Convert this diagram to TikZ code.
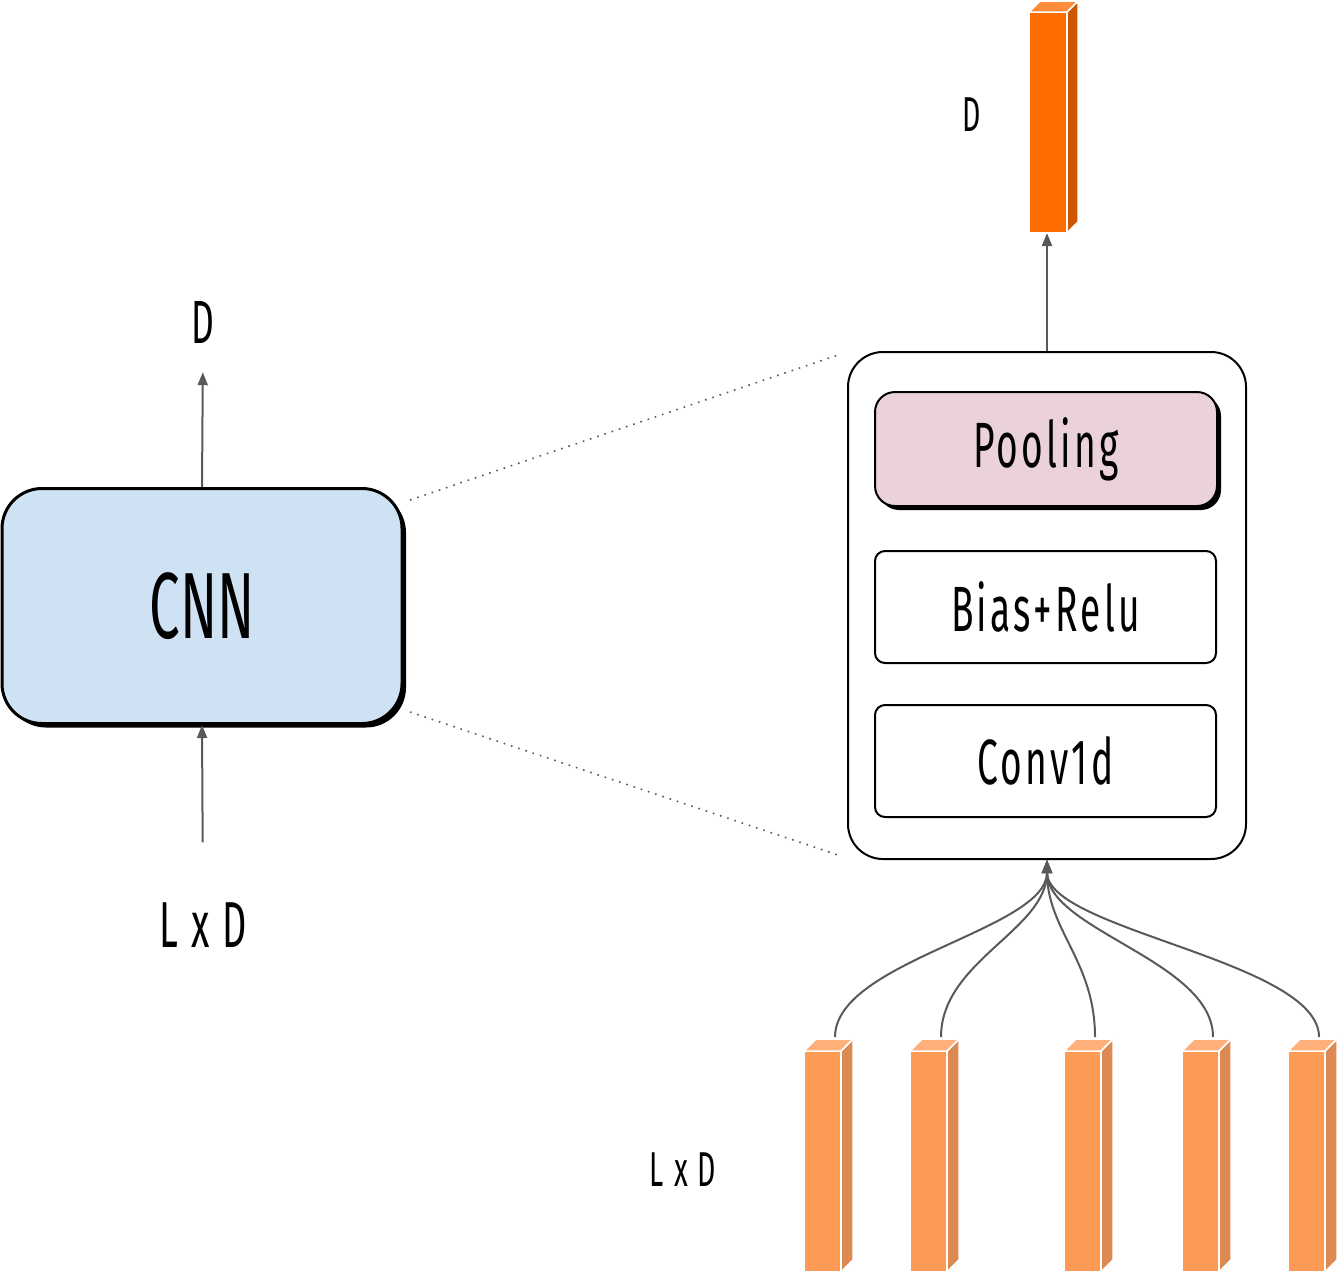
\documentclass[tikz,border=0pt]{standalone}
\usepackage{fontspec}
\setmainfont{Fira Sans}[FakeStretch=0.58, LetterSpace=5]
\newfontfamily\cnnfont{Fira Sans}[FakeStretch=0.58]
\usetikzlibrary{arrows.meta,shadows,calc}
\definecolor{CnnBlue}{RGB}{207,226,243}
\definecolor{PoolPink}{RGB}{234,209,220}
\definecolor{FlowGray}{RGB}{89,89,89}
\definecolor{VecFront}{RGB}{255,154,84}
\definecolor{VecSide}{RGB}{221,137,82}
\definecolor{VecTop}{RGB}{255,176,122}
\definecolor{OutFront}{RGB}{255,109,1}
\definecolor{OutSide}{RGB}{204,87,0}
\definecolor{OutTop}{RGB}{255,140,58}
\tikzset{
  flow/.style={draw=FlowGray, line width=2pt, -{Triangle[width=10pt,length=13pt]}},
  zoomline/.style={draw=FlowGray, line width=1.6pt, dash pattern=on 1.6pt off 6pt},
  layer/.style={draw=black, line width=2pt, fill=white, rounded corners=10pt,
    minimum width=341pt, minimum height=112pt, font=\fontsize{64}{70}\selectfont},
  label/.style={inner sep=3pt},
}

\begin{document}
\begin{tikzpicture}[x=1pt, y=-1pt]
  \useasboundingbox (0,0) rectangle (1338,1270);

  % --- left: the whole network ---
  \node[draw=black, line width=3pt, fill=CnnBlue, rounded corners=40pt,
        minimum width=400pt, minimum height=235pt,
        drop shadow={shadow xshift=4pt, shadow yshift=-4pt, fill=black, opacity=1},
        font=\cnnfont\fontsize{94}{100}\selectfont] (cnn) at (202,606) {CNN};
  \node[label, font=\fontsize{61}{66}\selectfont] (outD) at (203,322) {D};
  \node[label, font=\fontsize{65}{70}\selectfont] (inLD) at (203,925) {L x D};

  \draw[flow, shorten >=26pt] (cnn.north) -- (outD.south);
  \draw[flow, shorten <=57pt] (inLD.north) -- (cnn.south);

  % --- right: inside one CNN block ---
  \node[draw=black, line width=2pt, fill=white, rounded corners=35pt,
        minimum width=398pt, minimum height=507pt] (cell) at (1047,605.5) {};
  \node[layer, fill=PoolPink, rounded corners=20pt, minimum width=342pt, minimum height=114pt,
        drop shadow={shadow xshift=4pt, shadow yshift=-4pt, fill=black, opacity=1}]
        (pool) at (1046,449) {Pooling};
  \node[layer] (relu) at (1045.5,607) {Bias+Relu};
  \node[layer] (conv) at (1045.5,761) {Conv1d};

  % zoom guides
  \coordinate (zA) at (410,500);
  \coordinate (zB) at (410,712);
  \coordinate (zC) at (838,355);
  \coordinate (zD) at (838,855);
  \draw[zoomline] (zA) -- (zC);
  \draw[zoomline] (zB) -- (zD);

  % output vector
  \coordinate (outvec) at (1047,233);
  \draw[flow] (cell.north) -- (outvec);
  \fill[OutFront, draw=white, line width=1.5pt] (1029,12) rectangle ++(38,221);
  \fill[OutSide, draw=white, line width=1.5pt] (1067,12) -- ++(11,-11) -- ++(0,221) -- ++(-11,11) -- cycle;
  \fill[OutTop, draw=white, line width=1.5pt] (1029,12) -- ++(11,-11) -- ++(38,0) -- ++(-11,11) -- cycle;
  \node[label, font=\fontsize{49}{54}\selectfont] (topD) at (972,115) {D};

  % input vectors
  \foreach \x [count=\i] in {804,910,1064,1182,1288}
    \coordinate (vec\i) at (\x+31,1037);
  \foreach \i in {1,...,5}
    \draw[flow] (vec\i) .. controls +(0,-76) and +(0,70) .. (cell.south);
  \foreach \x in {804,910,1064,1182,1288} {
    \fill[VecFront, draw=white, line width=1.5pt] (\x,1051) rectangle ++(37,221);
    \fill[VecSide, draw=white, line width=1.5pt] (\x+37,1051) -- ++(12,-12) -- ++(0,221) -- ++(-12,12) -- cycle;
    \fill[VecTop, draw=white, line width=1.5pt] (\x,1051) -- ++(12,-12) -- ++(37,0) -- ++(-12,12) -- cycle;
  }
  \node[label, font=\fontsize{49}{54}\selectfont] (botLD) at (683,1170) {L x D};

\end{tikzpicture}
\end{document}
